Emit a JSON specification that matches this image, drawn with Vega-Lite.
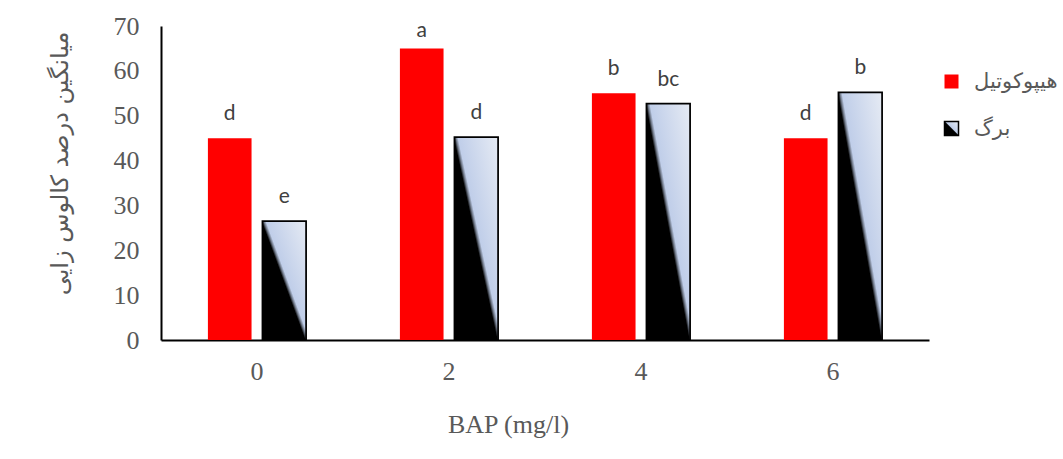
{
  "$schema": "https://vega.github.io/schema/vega-lite/v6.json",
  "autosize": {"type": "none"},
  "padding": {"left": 161, "top": 26, "right": 134, "bottom": 119},
  "width": 768,
  "height": 314,
  "background": "white",
  "config": {
    "view": {"stroke": null},
    "axis": {"grid": false, "ticks": false, "domainColor": "#000000", "domainWidth": 2}
  },
  "data": {
    "values": [
      {"bap": "0", "part": "هیپوکوتیل", "value": 45, "letter": "d"},
      {"bap": "0", "part": "برگ", "value": 26.5, "letter": "e"},
      {"bap": "2", "part": "هیپوکوتیل", "value": 65, "letter": "a"},
      {"bap": "2", "part": "برگ", "value": 45.2, "letter": "d"},
      {"bap": "4", "part": "هیپوکوتیل", "value": 55, "letter": "b"},
      {"bap": "4", "part": "برگ", "value": 52.7, "letter": "bc"},
      {"bap": "6", "part": "هیپوکوتیل", "value": 45, "letter": "d"},
      {"bap": "6", "part": "برگ", "value": 55.2, "letter": "b"}
    ]
  },
  "encoding": {
    "x": {
      "field": "bap",
      "type": "ordinal",
      "sort": ["0", "2", "4", "6"],
      "scale": {"paddingInner": 0, "paddingOuter": 0},
      "axis": {
        "labelAngle": 0,
        "labelFont": "Liberation Serif",
        "labelFontSize": 26,
        "labelColor": "#595959",
        "labelPadding": 18,
        "title": "BAP (mg/l)",
        "titleFont": "Liberation Serif",
        "titleFontSize": 26,
        "titleFontWeight": "normal",
        "titleColor": "#595959",
        "titleX": 347,
        "titleY": 92,
        "titleBaseline": "alphabetic"
      }
    },
    "xOffset": {
      "field": "part",
      "type": "nominal",
      "sort": ["هیپوکوتیل", "برگ"],
      "scale": {"paddingInner": 0.2, "paddingOuter": 0.86}
    },
    "y": {
      "field": "value",
      "type": "quantitative",
      "scale": {"domain": [0, 70], "nice": false},
      "axis": {
        "values": [0, 10, 20, 30, 40, 50, 60, 70],
        "labelFont": "Liberation Serif",
        "labelFontSize": 26,
        "labelColor": "#595959",
        "labelPadding": 22,
        "title": "میانگین درصد کالوس زایی",
        "titleFont": "DejaVu Sans",
        "titleFontSize": 24,
        "titleFontWeight": "normal",
        "titleColor": "#595959",
        "titleX": -101,
        "titleY": 137,
        "titleAngle": -90,
        "titleAlign": "center",
        "titleBaseline": "middle"
      }
    }
  },
  "layer": [
    {
      "mark": {"type": "bar", "strokeWidth": 1.75},
      "encoding": {
        "fill": {
          "field": "part",
          "type": "nominal",
          "scale": {
            "domain": ["هیپوکوتیل", "برگ"],
            "range": [
              "#ff0000",
              {"expr": "{gradient: 'linear', x1: 0, y1: 1, x2: 1, y2: 0, stops: [{offset: 0, color: '#000000'}, {offset: 0.49, color: '#000000'}, {offset: 0.515, color: '#6f7888'}, {offset: 0.54, color: '#c0cee9'}, {offset: 1, color: '#e6ebf4'}]}"}
            ]
          },
          "legend": {
            "title": null,
            "orient": "none",
            "legendX": 780,
            "legendY": 45,
            "padding": 0,
            "symbolType": "square",
            "symbolSize": 196,
            "symbolStrokeWidth": 1.5,
            "labelFont": "DejaVu Sans",
            "labelFontSize": 21,
            "labelColor": "#595959",
            "labelOffset": 12,
            "rowPadding": 25
          }
        },
        "stroke": {
          "field": "part",
          "type": "nominal",
          "scale": {"domain": ["هیپوکوتیل", "برگ"], "range": ["transparent", "#000000"]}
        }
      }
    },
    {
      "transform": [
        {"calculate": "min(datum.value, 63.5)", "as": "labelY"}
      ],
      "mark": {
        "type": "text",
        "dy": -18,
        "baseline": "alphabetic",
        "font": "Lato",
        "fontSize": 21,
        "color": "#404040"
      },
      "encoding": {
        "y": {"field": "labelY", "type": "quantitative"},
        "text": {"field": "letter"}
      }
    }
  ]
}
